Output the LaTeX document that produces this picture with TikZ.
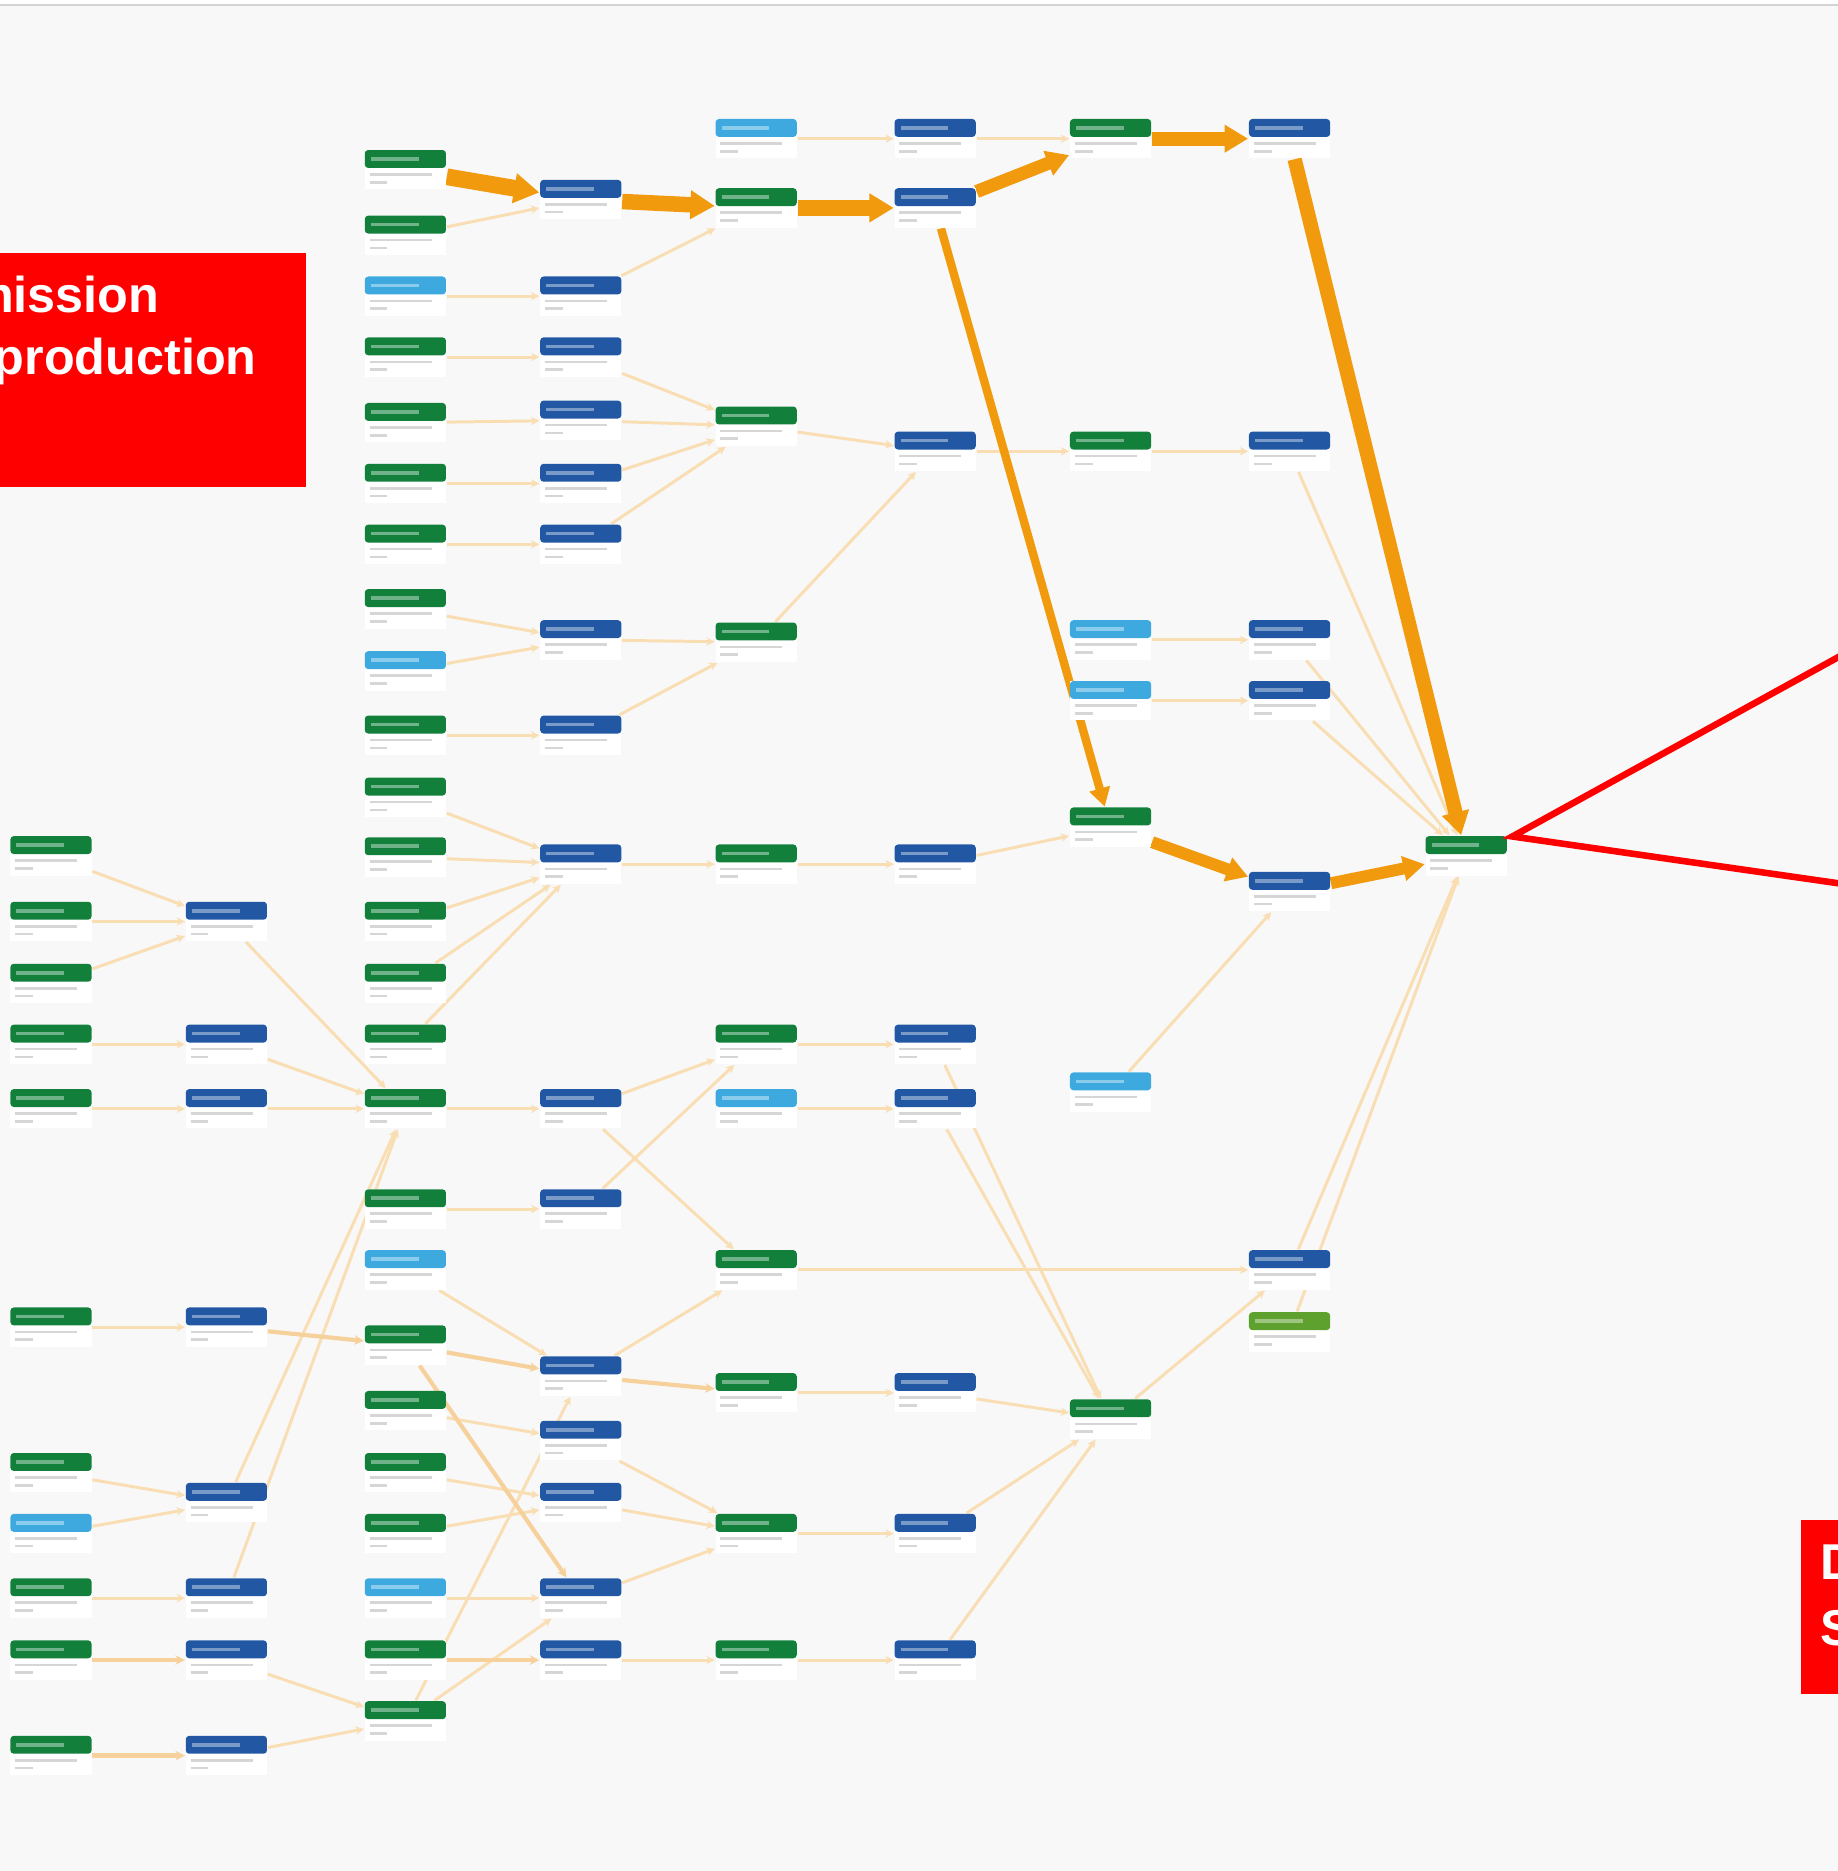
\documentclass[tikz,border=0pt]{standalone}
\usepackage{fontspec}
\setmainfont{Liberation Sans}
\usetikzlibrary{arrows.meta}
\definecolor{tgreen}{HTML}{12803B}
\definecolor{tblue}{HTML}{2257A4}
\definecolor{tsky}{HTML}{3EA9DE}
\definecolor{tolive}{HTML}{5EA12E}
\definecolor{torange}{HTML}{F29A0E}
\definecolor{tpale}{HTML}{F9DEB4}
\definecolor{tamber}{HTML}{F7D19C}
\definecolor{tred}{HTML}{FF0000}
\definecolor{tbg}{HTML}{F8F8F8}
\definecolor{tline}{HTML}{D3D3D3}
\pgfdeclarelayer{bg}
\pgfdeclarelayer{edges}
\pgfsetlayers{bg,edges,main}
\tikzset{
  tbl/.style={fill=white,inner sep=0,minimum width=0.68cm,minimum height=0.33cm,anchor=north west,
    path picture={
      \fill[#1,rounded corners=0.8pt] (path picture bounding box.north west) rectangle ([yshift=-0.15cm]path picture bounding box.north east);
      \draw[white,opacity=0.4,line width=0.03cm] ([xshift=0.05cm,yshift=-0.075cm]path picture bounding box.north west) -- ++(0.4cm,0);
      \draw[black!16,line width=0.022cm] ([xshift=0.04cm,yshift=-0.205cm]path picture bounding box.north west) -- ++(0.52cm,0);
      \draw[black!16,line width=0.022cm] ([xshift=0.04cm,yshift=-0.27cm]path picture bounding box.north west) -- ++(0.15cm,0);
    }},
  pale/.style={-{Stealth[length=0.07cm,width=0.07cm]},line width=0.025cm,draw=tpale},
  amber/.style={-{Stealth[length=0.08cm,width=0.08cm]},line width=0.035cm,draw=tamber},
  fat/.style={-{Triangle[length=0.1cm 0.8,width=0.1cm 1]},line width=#1,draw=torange},
  redbox/.style={fill=tred,inner sep=0},
  redtxt/.style={text=white,font=\fontsize{12}{14}\selectfont\bfseries,inner sep=0},
}
\begin{document}
\begin{tikzpicture}[x=0.01cm,y=-0.01cm]
  \path[use as bounding box] (0,0) rectangle (1540,1568);
  \begin{pgfonlayer}{bg}
    \fill[tbg] (0,0) rectangle (1540,1568);
    \fill[white] (0,0) rectangle (1540,4);
    \draw[tline,line width=0.015cm] (0,4.5) -- (1540,4.5);
  \end{pgfonlayer}
  % --- tables, column by column
  \foreach \y/\c in {700/tgreen,755/tgreen,807/tgreen,858/tgreen,912/tgreen,1095/tgreen,1217/tgreen,1268/tsky,1322/tgreen,1374/tgreen,1454/tgreen}
    \node[tbl=\c] (c0-\y) at (8,\y) {};
  \foreach \y in {755,858,912,1095,1242,1322,1374,1454}
    \node[tbl=tblue] (c1-\y) at (155,\y) {};
  \foreach \y/\c in {125/tgreen,180/tgreen,231/tsky,282/tgreen,337/tgreen,388/tgreen,439/tgreen,493/tgreen,545/tsky,599/tgreen,651/tgreen,701/tgreen,755/tgreen,807/tgreen,858/tgreen,912/tgreen,996/tgreen,1047/tsky,1110/tgreen,1165/tgreen,1217/tgreen,1268/tgreen,1322/tsky,1374/tgreen,1425/tgreen}
    \node[tbl=\c] (c2-\y) at (305,\y) {};
  \foreach \y in {150,231,282,335,388,439,519,599,707,912,996,1136,1190,1242,1322,1374}
    \node[tbl=tblue] (c3-\y) at (452,\y) {};
  \foreach \y/\c in {99/tsky,157/tgreen,340/tgreen,521/tgreen,707/tgreen,858/tgreen,912/tsky,1047/tgreen,1150/tgreen,1268/tgreen,1374/tgreen}
    \node[tbl=\c] (c4-\y) at (599,\y) {};
  \foreach \y in {99,157,361,707,858,912,1150,1268,1374}
    \node[tbl=tblue] (c5-\y) at (749,\y) {};
  \foreach \y/\c in {99/tgreen,361/tgreen,519/tsky,570/tsky,676/tgreen,898/tsky,1172/tgreen}
    \node[tbl=\c] (c6-\y) at (896,\y) {};
  \foreach \y/\c in {99/tblue,361/tblue,519/tblue,570/tblue,730/tblue,1047/tblue,1099/tolive}
    \node[tbl=\c] (c7-\y) at (1046,\y) {};
  \node[tbl=tgreen] (c8-700) at (1194,700) {};
  % --- lineage links
  \begin{pgfonlayer}{edges}
    \foreach \a/\b in {c2-180/c3-150,c2-231/c3-231,c3-231/c4-157,c4-99/c5-99,c5-99/c6-99,
      c2-282/c3-282,c2-337/c3-335,c2-388/c3-388,c2-439/c3-439,
      c3-282/c4-340,c3-335/c4-340,c3-388/c4-340,c3-439/c4-340,c4-340/c5-361,
      c5-361/c6-361,c6-361/c7-361,c7-361/c8-700,
      c6-519/c7-519,c6-570/c7-570,c7-519/c8-700,c7-570/c8-700,
      c2-493/c3-519,c2-545/c3-519,c3-519/c4-521,c2-599/c3-599,c3-599/c4-521,c4-521/c5-361,
      c2-651/c3-707,c2-701/c3-707,c2-755/c3-707,c2-807/c3-707,c2-858/c3-707,
      c3-707/c4-707,c4-707/c5-707,c5-707/c6-676,
      c0-700/c1-755,c0-755/c1-755,c0-807/c1-755,c1-755/c2-912,
      c0-858/c1-858,c0-912/c1-912,c1-858/c2-912,c1-912/c2-912,c2-912/c3-912,
      c3-912/c4-858,c3-912/c4-1047,c3-996/c4-858,c2-996/c3-996,
      c4-858/c5-858,c4-912/c5-912,c5-858/c6-1172,c5-912/c6-1172,
      c4-1047/c7-1047,c7-1047/c8-700,c7-1099/c8-700,c6-1172/c7-1047,c6-898/c7-730,
      c0-1095/c1-1095,c2-1047/c3-1136,c3-1136/c4-1047,c4-1150/c5-1150,c5-1150/c6-1172,
      c2-1165/c3-1190,c3-1190/c4-1268,c3-1242/c4-1268,c2-1217/c3-1242,c2-1268/c3-1242,
      c4-1268/c5-1268,c5-1268/c6-1172,c5-1374/c6-1172,c3-1322/c4-1268,c2-1322/c3-1322,
      c3-1374/c4-1374,c4-1374/c5-1374,c2-1425/c3-1136,c2-1425/c3-1322,
      c0-1217/c1-1242,c0-1268/c1-1242,c1-1242/c2-912,c1-1322/c2-912,
      c0-1322/c1-1322,c1-1374/c2-1425,c1-1454/c2-1425}
      \draw[pale] (\a) -- (\b);
    \foreach \a/\b in {c1-1095/c2-1110,c2-1110/c3-1136,c3-1136/c4-1150,c2-1110/c3-1322,c2-1374/c3-1374,c0-1374/c1-1374,c0-1454/c1-1454}
      \draw[amber] (\a) -- (\b);
    % main path
    \draw[fat=0.14cm] (c2-125) -- (c3-150);
    \draw[fat=0.13cm] (c3-150) -- (c4-157);
    \draw[fat=0.13cm] (c4-157) -- (c5-157);
    \draw[fat=0.11cm] (c5-157) -- (c6-99);
    \draw[fat=0.12cm] (c6-99) -- (c7-99);
    \draw[fat=0.07cm] (c5-157) -- (c6-676);
    \draw[fat=0.10cm] (c6-676) -- (c7-730);
    \draw[fat=0.10cm] (c7-730) -- (c8-700);
    \draw[fat=0.12cm] (c7-99) -- (c8-700);
  \end{pgfonlayer}
  % --- callouts
  \node[redbox,minimum width=2.9cm,minimum height=1.96cm,anchor=north east] (subbox) at (257,211) {};
  \node[redtxt,anchor=base west] (subtop) at (-26.5,262) {mission};
  \node[redtxt,anchor=base west] (subbot) at (-6,314) {production};
  \node[redbox,minimum width=0.6cm,minimum height=1.46cm,anchor=north west] (dsbox) at (1509,1273) {};
  \node[redtxt,anchor=base west] (dstop) at (1525,1324) {D};
  \node[redtxt,anchor=base west] (dsbot) at (1525,1379) {S};
  \coordinate (callA) at (1560,540);
  \coordinate (callB) at (1560,743);
  \draw[tred,line width=0.055cm] (callA) -- ([xshift=0.04cm,yshift=-0.01cm]c8-700.north east) -- (callB);
\end{tikzpicture}
\end{document}
